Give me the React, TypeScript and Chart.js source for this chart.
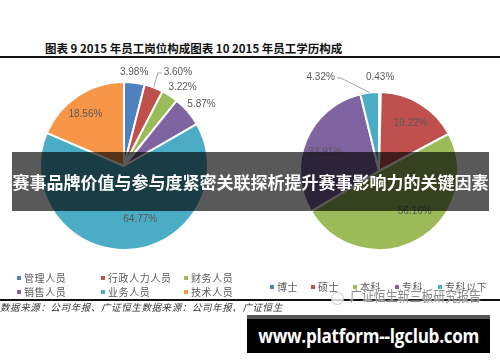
import React, { useEffect, useRef } from "react";
import { Chart, registerables } from "chart.js";

Chart.register(...registerables);

// ---- data ----
const jobCategories = ["管理人员", "行政人力人员", "财务人员", "销售人员", "业务人员", "技术人员"];
const jobValues = [3.98, 3.6, 3.22, 5.87, 64.77, 18.56];
const eduCategories = ["博士", "硕士", "本科", "专科", "专科以下"];
const eduValues = [0.43, 19.22, 56.16, 33.91, 4.32];

// ---- styles ----
const jobColors = ["#4F81BD", "#C0504D", "#9BBB59", "#8064A2", "#4BACC6", "#F79646"];
const eduColors = ["#4F81BD", "#C0504D", "#9BBB59", "#8064A2", "#4BACC6"];
// label placement per slice: [radial factor, angle shift (deg), leader line]
const jobLabelPlace = [
  [1.12, -1, 0],
  [1.29, 9, 1],
  [1.17, 3.5, 0],
  [1.18, 2, 0],
  [0.66, -13.6, 0],
  [0.77, -3.2, 0],
];
const eduLabelPlace = [
  [1.19, 0, 0],
  [0.73, 1.7, 0],
  [0.68, -12.3, 0],
  [0.72, -3.9, 0],
  [1.4, -25, 1],
];

const sliceLabels = {
  id: "sliceLabels",
  afterDatasetsDraw(chart: any, _args: any, opts: any) {
    const { ctx } = chart;
    const meta = chart.getDatasetMeta(0);
    const values = chart.data.datasets[0].data as number[];
    const place = opts.place as number[][];
    ctx.save();
    ctx.font = '10px "Liberation Sans", Arial, sans-serif';
    ctx.fillStyle = "#595959";
    ctx.textAlign = "center";
    ctx.textBaseline = "middle";
    meta.data.forEach((arc: any, i: number) => {
      const { x, y, startAngle, endAngle, outerRadius } = arc.getProps(
        ["x", "y", "startAngle", "endAngle", "outerRadius"],
        true
      );
      const [f, shift, leader] = place[i];
      const am = (startAngle + endAngle) / 2;
      const mid = am + (shift * Math.PI) / 180;
      const lx = x + Math.cos(mid) * outerRadius * f;
      const ly = y + Math.sin(mid) * outerRadius * f;
      const text = values[i].toFixed(2) + "%";
      ctx.fillText(text, lx, ly);
      if (leader) {
        const ex = x + Math.cos(am) * outerRadius;
        const ey = y + Math.sin(am) * outerRadius;
        const w = ctx.measureText(text).width;
        const dir = ex > lx ? 1 : -1;
        const sx = lx + dir * (w / 2 + 2);
        ctx.strokeStyle = "#a6a6a6";
        ctx.lineWidth = 1;
        ctx.beginPath();
        ctx.moveTo(sx, ly + 1);
        ctx.lineTo(sx + dir * 4, ly + 1);
        ctx.lineTo(ex, ey);
        ctx.stroke();
      }
    });
    ctx.restore();
  },
};

function PieChart(props: {
  labels: string[];
  values: number[];
  colors: string[];
  place: number[][];
  radius: number;
  style: React.CSSProperties;
}) {
  const ref = useRef<HTMLCanvasElement>(null);
  useEffect(() => {
    const chart = new Chart(ref.current as HTMLCanvasElement, {
      type: "pie",
      data: {
        labels: props.labels,
        datasets: [
          {
            data: props.values,
            backgroundColor: props.colors,
            borderColor: "#ffffff",
            borderWidth: 2,
            radius: props.radius,
          } as any,
        ],
      },
      options: {
        responsive: false,
        animation: false,
        events: [],
        layout: { padding: 0 },
        plugins: {
          legend: { display: false },
          tooltip: { enabled: false },
          sliceLabels: { place: props.place },
        } as any,
      },
      plugins: [sliceLabels as any],
    });
    return () => chart.destroy();
  }, []);
  return <canvas ref={ref} width={240} height={240} style={{ position: "absolute", ...props.style }} />;
}

const cjk = '"Noto Sans CJK SC", sans-serif';

function LegendItem(props: { color: string; text: string; left: number; top: number }) {
  return (
    <div
      style={{
        position: "absolute",
        left: props.left,
        top: props.top,
        display: "flex",
        alignItems: "center",
        fontFamily: cjk,
        fontSize: 10,
        letterSpacing: 0.6,
        color: "#595959",
        lineHeight: "12px",
        whiteSpace: "nowrap",
      }}
    >
      <span style={{ width: 4, height: 4, background: props.color, marginRight: 3, display: "inline-block" }} />
      {props.text}
    </div>
  );
}

export default function App() {
  const jobLegendPos = [
    [17, 272],
    [101, 272],
    [184, 272],
    [17, 286],
    [101, 286],
    [184, 286],
  ];
  const eduLegendPos = [270, 311, 353, 395, 438];
  return (
    <div
      style={{
        position: "fixed",
        left: 0,
        top: 0,
        width: 500,
        height: 362,
        background: "#fff",
        overflow: "hidden",
      }}
    >
      <div
        style={{
          position: "absolute",
          left: 45,
          top: 40,
          fontFamily: cjk,
          fontWeight: 700,
          fontSize: 11.5,
          color: "#111",
          whiteSpace: "nowrap",
          lineHeight: "16px",
        }}
      >
        图表 9 2015 年员工岗位构成图表 10 2015 年员工学历构成
      </div>
      <div style={{ position: "absolute", left: 0, top: 56, width: 500, height: 2, background: "#111" }} />

      <PieChart labels={jobCategories} values={jobValues} colors={jobColors} place={jobLabelPlace} radius={84} style={{ left: 4, top: 46 }} />
      <PieChart labels={eduCategories} values={eduValues} colors={eduColors} place={eduLabelPlace} radius={79} style={{ left: 259, top: 51 }} />

      {jobCategories.map((c, i) => (
        <LegendItem key={c} color={jobColors[i]} text={c} left={jobLegendPos[i][0]} top={jobLegendPos[i][1]} />
      ))}
      {eduCategories.map((c, i) => (
        <LegendItem key={c} color={eduColors[i]} text={c} left={eduLegendPos[i]} top={281} />
      ))}

      <div style={{ position: "absolute", left: 0, top: 299, width: 500, height: 2, background: "#111" }} />
      <div
        style={{
          position: "absolute",
          left: 0,
          top: 301,
          fontFamily: cjk,
          fontStyle: "italic",
          fontSize: 9.5,
          letterSpacing: 0.6,
          color: "#333",
          whiteSpace: "nowrap",
          lineHeight: "12px",
        }}
      >
        数据来源：公司年报、广证恒生数据来源：公司年报、广证恒生
      </div>

      {/* watermark */}
      <div
        style={{
          position: "absolute",
          left: 331,
          top: 292,
          width: 11,
          height: 11,
          borderRadius: "50%",
          border: "1.5px solid #c8c8c8",
          background: "rgba(255,255,255,0.8)",
        }}
      />
      <div
        style={{
          position: "absolute",
          left: 350,
          top: 286,
          fontFamily: cjk,
          fontSize: 14,
          color: "rgba(120,120,120,0.85)",
          whiteSpace: "nowrap",
          transform: "scaleX(0.85)",
          transformOrigin: "left center",
          lineHeight: "18px",
          textShadow: "0 0 2px #fff, 0 0 2px #fff",
        }}
      >
        广证恒生新三板研究报告
      </div>

      {/* banner */}
      <div
        style={{
          position: "absolute",
          left: 12,
          top: 152,
          width: 477,
          height: 59,
          background: "rgba(0,0,0,0.65)",
          display: "flex",
          alignItems: "center",
          justifyContent: "center",
          fontFamily: cjk,
          fontWeight: 700,
          fontSize: 17,
          color: "#fff",
          whiteSpace: "nowrap",
        }}
      >
        赛事品牌价值与参与度紧密关联探析提升赛事影响力的关键因素
      </div>

      {/* url box */}
      <div
        style={{
          position: "absolute",
          left: 247,
          top: 315,
          width: 243,
          height: 34,
          background: "#000",
          borderTop: "4px solid #555",
          display: "flex",
          alignItems: "center",
          justifyContent: "center",
        }}
      >
        <span
          style={{
            display: "inline-block",
            fontFamily: '"Open Sans", sans-serif',
            fontWeight: 700,
            fontSize: 19,
            color: "#fff",
            whiteSpace: "nowrap",
            letterSpacing: -0.3,
            transform: "scaleX(0.9)",
          }}
        >
          www.platform--lgclub.com
        </span>
      </div>
    </div>
  );
}
